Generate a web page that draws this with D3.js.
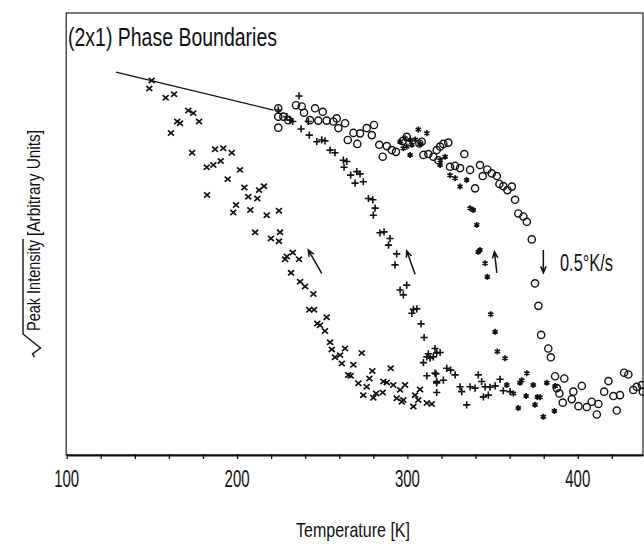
<!DOCTYPE html>
<html><head><meta charset="utf-8">
<script src="https://cdn.jsdelivr.net/npm/d3@7"></script>
<style>body{margin:0;background:#fff}svg{display:block}</style>
</head><body>
<svg id="c" width="644" height="547"></svg>
<script>
// ---- data (temperature K, sqrt peak intensity in arbitrary units) ----
const xTickValues = [100,120,140,160,180,200,220,240,260,280,300,320,340,360,380,400,420];
const xTickLabels = [100,200,300,400];
const fitLineT = [128.9, 221.3];
const fitLineI = [87.0, 78.4];

const crossData = [[149.9,85.1],[148.5,83.3],[158.1,81.2],[163.0,82.0],[171.4,78.3],[174.3,77.7],[164.9,75.8],[166.5,75.4],[177.7,75.8],[161.2,73.2],
[173.6,68.7],[187.1,69.5],[191.9,69.7],[196.9,68.7],[182.2,65.4],[186.1,65.9],[190.4,66.8],[201.7,64.8],[194.5,62.7],[182.4,59.1],
[204.3,60.8],[212.9,60.2],[215.8,61.1],[206.6,58.7],[211.9,58.3],[199.4,56.8],[197.8,55.1],[207.8,55.7],[217.4,54.5],[224.6,55.5],
[210.6,50.6],[225.2,50.6],[219.9,49.2],[224.6,48.6],[232.7,46.0],[229.2,45.1],[228.2,44.5],[236.4,44.5],[231.7,41.4],[237.0,39.4],
[239.9,38.3],[244.8,36.6],[242.4,33.0],[245.2,33.0],[252.6,31.3],[247.1,29.9],[248.7,29.5],[251.6,28.2],[254.6,25.6],[255.6,24.0],
[263.4,24.2],[260.5,22.7],[257.5,22.2],[261.5,20.8],[273.2,23.2],[268.3,20.5],[265.3,18.2],[266.7,18.0],[271.2,16.3],[279.4,19.1],
[277.7,17.4],[276.1,15.5],[274.1,13.6],[280.0,13.0],[281.6,14.0],[285.5,14.2],[285.9,16.7],[287.9,16.5],[290.2,19.7],[291.7,15.9],
[295.7,14.8],[298.6,15.9],[293.7,12.9],[296.7,12.1],[304.5,13.6],[303.5,11.0],[306.4,12.5],[307.4,14.9],[311.4,11.8],[314.3,11.6],[297.6,12.5]];

const plusData = [[224.2,78.4],[236.4,81.6],[229.2,76.9],[231.1,76.1],[232.7,75.8],[241.8,75.8],[237.6,74.1],[242.4,72.7],[246.8,71.2],[249.7,71.6],
[251.6,71.4],[254.6,69.3],[257.5,68.7],[262.4,67.0],[264.4,66.7],[262.8,65.4],[266.7,63.6],[270.3,64.4],[272.2,63.9],[269.3,61.8],
[274.1,62.1],[277.1,58.3],[279.7,58.0],[281.0,56.1],[280.0,54.5],[283.9,50.5],[286.3,50.7],[289.8,49.2],[288.9,47.7],[293.7,45.7],
[292.7,43.2],[295.7,37.5],[299.6,38.6],[297.6,36.4],[303.5,33.1],[302.6,32.2],[305.5,33.2],[308.0,29.8],[309.8,26.7],[316.2,24.2],
[311.4,22.3],[313.3,22.0],[309.4,21.0],[317.2,23.2],[311.4,18.0],[316.2,18.6],[317.2,16.7],[317.2,14.2],[312.3,23.0],[315.2,22.3],
[319.2,23.3],[323.1,19.7],[325.4,19.3],[328.0,18.2],[316.8,18.4],[321.1,17.0],[317.2,16.4],[330.9,15.5],[331.9,14.4],[334.8,11.4],
[336.8,15.5],[339.7,15.2],[341.6,18.2],[343.6,16.7],[345.6,15.5],[348.5,15.4],[351.5,15.7],[344.6,13.2],[347.5,13.6],[354.4,17.2],
[356.3,14.6],[360.3,14.4]];

const starData = [[295.7,71.2],[298.6,72.0],[301.6,71.6],[304.5,71.7],[306.4,74.0],[311.4,73.1],[299.6,70.1],[302.6,70.5],[307.4,70.7],[301.6,68.2],
[297.6,69.7],[319.2,67.0],[322.1,67.8],[319.2,65.9],[325.0,63.6],[328.0,62.9],[334.8,62.5],[330.9,61.0],[336.8,56.1],[338.7,55.7],
[340.7,52.3],[342.6,46.6],[341.6,46.2],[345.6,43.6],[346.9,40.5],[348.9,32.0],[351.5,28.0],[352.8,23.5],[357.3,22.0],[370.1,18.6],
[367.1,17.0],[366.1,16.4],[373.9,15.9],[381.8,16.4],[386.7,15.7],[369.7,13.4],[376.3,13.2],[377.9,13.1],[374.9,11.4],[365.1,10.7],
[379.8,8.7],[386.3,10.0],[362.2,14.0],[358.3,15.9]];

const circleData = [[224.2,78.8],[234.6,79.5],[238.0,79.2],[239.3,77.8],[245.8,78.8],[250.3,78.0],[247.7,76.0],[252.6,76.0],[256.5,75.8],[258.5,76.5],
[259.5,74.3],[263.4,75.4],[224.2,76.9],[227.2,76.9],[230.1,76.1],[224.2,74.4],[242.8,76.1],[268.3,73.2],[272.2,73.1],[276.1,74.3],
[280.4,75.0],[279.1,72.7],[265.0,71.6],[270.6,70.7],[283.5,70.5],[287.9,70.2],[290.8,69.3],[293.3,68.9],[285.5,67.8],[297.3,71.4],
[299.6,72.3],[307.0,70.8],[308.4,71.2],[309.4,68.2],[312.3,68.4],[315.2,67.8],[318.2,67.0],[317.2,69.3],[319.2,70.1],[321.1,70.7],
[324.0,71.0],[333.4,68.4],[325.0,65.5],[328.0,65.7],[330.9,65.2],[336.8,64.8],[342.6,65.9],[346.9,64.9],[349.5,64.0],[352.5,63.4],
[344.2,63.4],[339.7,60.6],[354.0,61.6],[356.3,61.1],[358.7,60.2],[361.3,61.0],[363.2,58.0],[365.1,54.9],[368.1,54.2],[370.1,53.0],
[373.0,49.0],[374.9,39.0],[376.9,33.9],[378.5,27.3],[382.7,24.2],[384.2,22.2],[386.7,17.9],[392.1,17.4],[387.7,15.2],[389.2,14.0],
[391.2,11.9],[397.4,14.4],[402.4,15.7],[396.5,12.7],[400.4,11.1],[405.3,10.9],[408.2,12.1],[412.1,11.6],[411.2,9.2],[415.5,14.4],
[418.0,16.8],[420.9,13.4],[424.8,13.6],[422.9,10.1],[427.2,18.7],[429.7,18.3],[432.6,14.8],[434.6,15.5],[437.6,15.9],[438.2,14.4]];

// arrows: [tailT, tailI, tipT, tipI]
const arrows = [[249.7,41.3,241.8,46.6],[304.5,41.1,299.6,46.4],[352.5,41.4,351.1,46.2],[379.8,46.6,379.8,41.4]];
const rateLabel = "0.5°K/s";
const titleText = "(2x1) Phase Boundaries";

// ---- drawing ----
const svg = d3.select("#c");
const FONT = "'Liberation Sans', Arial, sans-serif";
const x = d3.scaleLinear().domain([100, 438.3]).range([66.7, 643]);
const y = d3.scaleLinear().domain([0, 100]).range([455, 15]);
const ink = "#111";

// frame
svg.append("rect").attr("x", 66.2).attr("y", 13).attr("width", 643 - 66.2).attr("height", 442)
  .attr("fill", "none").attr("stroke", "#333").attr("stroke-width", 1.3);

// bottom axis
const ax = svg.append("g").attr("transform", "translate(0,455)")
  .call(d3.axisBottom(x).tickValues(xTickValues).tickSize(4).tickSizeOuter(0).tickFormat(""));
ax.select(".domain").attr("stroke", ink).attr("stroke-width", 1.8);
ax.selectAll(".tick line").attr("stroke", ink).attr("stroke-width", 1.3).attr("y1", -1);

svg.append("g").selectAll("text").data(xTickLabels).join("text")
  .attr("x", d => x(d)).attr("y", 487).attr("text-anchor", "middle")
  .attr("font-family", FONT).attr("font-size", 24).attr("fill", ink)
  .attr("textLength", 25).attr("lengthAdjust", "spacingAndGlyphs")
  .text(d => d);

// fit line
svg.append("line")
  .attr("x1", x(fitLineT[0])).attr("y1", y(fitLineI[0]))
  .attr("x2", x(fitLineT[1])).attr("y2", y(fitLineI[1]))
  .attr("stroke", ink).attr("stroke-width", 1.3);

const g = svg.append("g").attr("fill", "none").attr("stroke", ink);
g.selectAll("path.cross").data(crossData).join("path").attr("class", "cross")
  .attr("transform", d => `translate(${x(d[0])},${y(d[1])})`)
  .attr("d", "M-3,-2.6L3,2.6M-3,2.6L3,-2.6").attr("stroke-width", 1.7);
g.selectAll("path.plus").data(plusData).join("path").attr("class", "plus")
  .attr("transform", d => `translate(${x(d[0])},${y(d[1])})`)
  .attr("d", "M-3.6,0L3.6,0M0,-3.6L0,3.6").attr("stroke-width", 1.6);
g.selectAll("path.star").data(starData).join("path").attr("class", "star")
  .attr("transform", d => `translate(${x(d[0])},${y(d[1])})`)
  .attr("d", "M0,-3L0,3M-2.6,-1.5L2.6,1.5M-2.6,1.5L2.6,-1.5").attr("stroke-width", 1.7);
g.selectAll("circle").data(circleData).join("circle")
  .attr("cx", d => x(d[0])).attr("cy", d => y(d[1])).attr("r", 3.6).attr("stroke-width", 1.4);

// arrows
arrows.forEach(a => {
  const x1 = x(a[0]), y1 = y(a[1]), x2 = x(a[2]), y2 = y(a[3]);
  const ang = Math.atan2(y2 - y1, x2 - x1), L = 7, w = 0.4;
  g.append("path").attr("stroke-width", 1.5)
    .attr("d", `M${x1},${y1}L${x2},${y2}M${x2 - L*Math.cos(ang - w)},${y2 - L*Math.sin(ang - w)}L${x2},${y2}L${x2 - L*Math.cos(ang + w)},${y2 - L*Math.sin(ang + w)}`);
});

svg.append("text").attr("x", 560).attr("y", 271).attr("font-family", FONT).attr("font-size", 24)
  .attr("fill", ink).attr("textLength", 53).attr("lengthAdjust", "spacingAndGlyphs").text(rateLabel);

// title
svg.append("text").attr("x", 68).attr("y", 46).attr("font-family", FONT).attr("font-size", 25)
  .attr("fill", ink).attr("textLength", 209).attr("lengthAdjust", "spacingAndGlyphs").text(titleText);

// x label
svg.append("text").attr("x", 296).attr("y", 537).attr("font-family", FONT).attr("font-size", 21)
  .attr("fill", ink).attr("textLength", 114).attr("lengthAdjust", "spacingAndGlyphs").text("Temperature [K]");

// y label (rotated)
const yl = svg.append("g").attr("transform", "translate(39.5,357) rotate(-90)");
yl.append("path").attr("fill", "none").attr("stroke", ink).attr("stroke-width", 1.4)
  .attr("d", "M0,-5L3,-7L9,1L23,-16.5L118,-16.5");
yl.append("text").attr("x", 26).attr("y", 0).attr("font-family", FONT).attr("font-size", 18)
  .attr("fill", ink).attr("textLength", 91).attr("lengthAdjust", "spacingAndGlyphs").text("Peak Intensity");
yl.append("text").attr("x", 121).attr("y", 0).attr("font-family", FONT).attr("font-size", 18)
  .attr("fill", ink).attr("textLength", 106).attr("lengthAdjust", "spacingAndGlyphs").text("[Arbitrary Units]");
</script>
</body></html>
